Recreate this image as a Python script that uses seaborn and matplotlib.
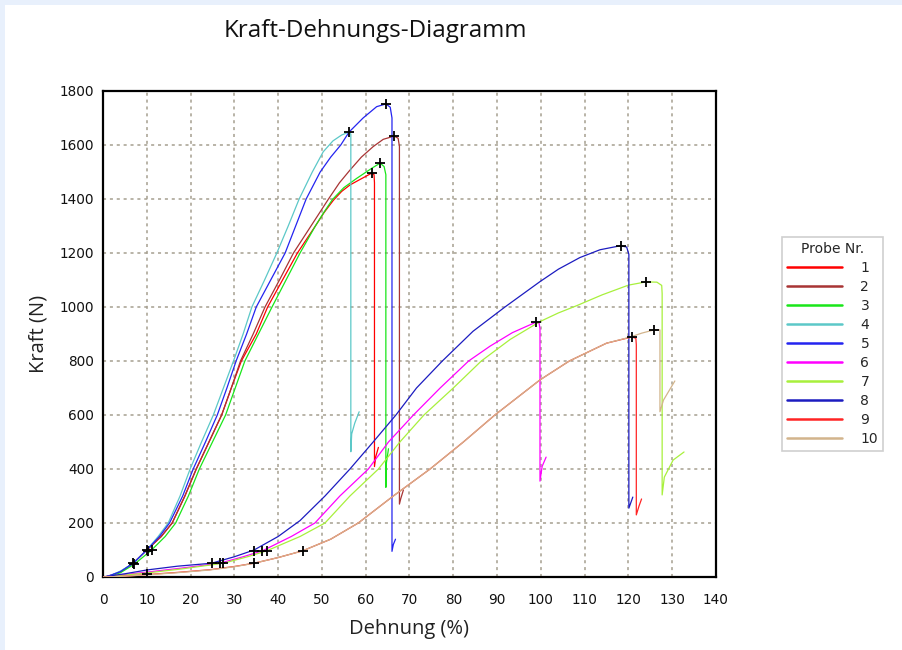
import numpy as np
import pandas as pd
import matplotlib
matplotlib.use("Agg")
import matplotlib.pyplot as plt
from matplotlib.patches import Rectangle
import seaborn as sns

# ---------------- data ----------------
# Probe 1 (red)
x1 = [0.5, 2, 4, 6.9, 10, 13.3, 15.8, 18.7, 21.3, 24.2, 27.1, 29.3, 31.6, 35, 37.6, 41, 44.4, 48.5, 50.5, 52.6, 54.5, 56.4, 59, 61.4, 61.9, 62.0, 62.0, 62.3, 62.9]
y1 = [0, 7, 19, 51, 100, 150, 200, 300, 400, 500, 600, 700, 800, 900, 1000, 1100, 1200, 1300, 1350, 1395, 1428, 1452, 1475, 1496, 1490, 1460, 409, 446, 480]
# Probe 2 (brown)
x2 = [0.5, 2, 4, 6.9, 10, 13.3, 15.8, 18.7, 21.3, 24.2, 27.1, 29.3, 31.4, 34.3, 37.0, 40.3, 43.5, 47.5, 51.5, 54, 56.4, 59, 61.7, 64.0, 66.5, 67.4, 67.7, 67.7, 68.0, 68.6]
y2 = [0, 7, 19, 51, 100, 150, 200, 300, 400, 500, 600, 700, 800, 900, 1000, 1100, 1200, 1300, 1400, 1460, 1507, 1555, 1594, 1621, 1633, 1625, 1595, 270, 290, 322]
# Probe 3 (green)
x3 = [0.5, 2, 4, 7.2, 11.1, 14.2, 16.6, 19.5, 22.0, 25.0, 28.0, 30.2, 32.4, 35.5, 38.6, 41.8, 45.0, 48.5, 50.5, 52.4, 55, 57.9, 61.5, 63.3, 64.2, 64.6, 64.6, 64.7, 65.2]
y3 = [0, 6, 16, 48, 100, 150, 200, 300, 400, 500, 600, 700, 800, 900, 1000, 1100, 1200, 1300, 1352, 1398, 1442, 1476, 1515, 1533, 1520, 1490, 332, 420, 475]
# Probe 4 (cyan)
x4 = [0.5, 2, 4, 6.9, 10, 12.6, 14.9, 17.6, 19.9, 22.5, 25.2, 27.5, 29.8, 32, 34.0, 36.9, 39.7, 42.3, 44.8, 47.8, 50.3, 52.5, 54.5, 56.2, 56.6, 56.6, 56.8, 57.5, 58.5]
y4 = [0, 8, 22, 51, 100, 150, 200, 300, 400, 500, 600, 700, 800, 900, 1000, 1100, 1200, 1300, 1400, 1500, 1575, 1615, 1637, 1648, 1640, 464, 530, 570, 612]
# Probe 5 (blue)
x5 = [0.5, 2, 4, 6.9, 10, 12.9, 15.2, 18.2, 20.6, 23.4, 26.1, 28.3, 30.4, 32.8, 35.0, 38.3, 41.6, 44, 46.4, 49.6, 52, 54.3, 56.2, 59.4, 62.5, 64.6, 65.6, 66.0, 66.0, 66.3, 66.8]
y5 = [0, 8, 20, 51, 100, 150, 200, 300, 400, 500, 600, 700, 800, 900, 1000, 1100, 1200, 1300, 1400, 1500, 1555, 1600, 1648, 1700, 1742, 1752, 1740, 1700, 95, 120, 140]
# Probe 6 (magenta)
x6 = [0, 5, 10, 18, 26.7, 32, 36.4, 43, 48.4, 54.1, 60.6, 65.2, 70.9, 77.0, 83.5, 88.4, 93.5, 98.9, 99.6, 99.8, 99.8, 100.3, 101.2]
y6 = [0, 9, 18, 33, 51, 75, 97, 150, 200, 300, 400, 500, 600, 700, 800, 855, 905, 944, 940, 920, 355, 410, 444]
# Probe 7 (yellow-green)
x7 = [0, 5, 10, 18, 27.5, 33, 37.4, 45, 50.7, 56.4, 62.9, 67.8, 73.3, 80, 86.4, 93, 99.8, 104, 108.2, 114, 120, 124, 126.5, 127.6, 127.7, 127.7, 128.2, 130.2, 132.7]
y7 = [0, 7, 15, 30, 51, 75, 97, 150, 200, 300, 400, 500, 600, 700, 800, 880, 946, 978, 1005, 1045, 1081, 1093, 1092, 1080, 1050, 304, 370, 433, 463]
# Probe 8 (dark blue)
x8 = [0, 5, 10, 17, 24.8, 30, 34.5, 40, 45, 50.7, 56.4, 61.7, 66.9, 71.6, 77.5, 84.5, 91.8, 99.8, 104, 108.9, 113.5, 118.2, 119.6, 120.1, 120.1, 121.0]
y8 = [0, 12, 26, 40, 51, 75, 100, 150, 209, 300, 400, 500, 600, 700, 800, 910, 1000, 1094, 1140, 1183, 1212, 1227, 1222, 1195, 255, 296]
# Probe 9 (red)
x9 = [0, 5, 10, 17, 24.4, 30, 34.5, 40, 45.6, 52, 58.3, 66.3, 74.7, 82.3, 89.5, 99.8, 106.5, 115, 120.8, 121.7, 121.8, 121.8, 122.4, 123.0]
y9 = [0, 3, 9, 17, 27, 39, 51, 72, 97, 140, 200, 300, 400, 500, 600, 730, 800, 866, 889, 884, 860, 230, 262, 289]
# Probe 10 (tan)
x10 = [0, 5, 10, 17, 24.4, 30, 34.5, 40, 45.6, 52, 58.3, 66.3, 74.7, 82.3, 89.5, 99.8, 106.5, 115, 120.3, 123, 125.8, 127.2, 127.2, 128, 130.6]
y10 = [0, 3, 8, 16, 26, 38, 51, 72, 97, 140, 200, 300, 400, 500, 600, 730, 800, 866, 888, 903, 915, 915, 612, 655, 726]

probe_labels = ["1", "2", "3", "4", "5", "6", "7", "8", "9", "10"]
probe_colors = ["#ff0000", "#a83434", "#19e619", "#5cc8c8", "#2424f0",
                "#ff00ff", "#a8f03c", "#1c1cc0", "#ff2424", "#d2b48c"]

# "+" markers (peaks and force-level marks)
mark_x = [61.4, 66.5, 63.3, 56.2, 64.6, 98.9, 124.0, 118.2, 120.8, 125.8,
          6.9, 7.1, 10.0, 10.2, 11.1, 10.1,
          24.8, 26.7, 27.5, 34.5, 36.4, 37.4, 34.5, 45.6]
mark_y = [1496, 1633, 1533, 1648, 1752, 944, 1093, 1227, 889, 915,
          51, 49, 100, 95, 100, 11,
          51, 51, 51, 97, 97, 97, 51, 97]

x_ticks = list(range(0, 141, 10))
y_ticks = list(range(0, 1801, 200))

# ---------------- build long-form table ----------------
xs_all = [x1, x2, x3, x4, x5, x6, x7, x8, x9, x10]
ys_all = [y1, y2, y3, y4, y5, y6, y7, y8, y9, y10]
frames = []
for lab, xs, ys in zip(probe_labels, xs_all, ys_all):
    frames.append(pd.DataFrame({"Dehnung": xs, "Kraft": ys, "Probe Nr.": lab}))
df = pd.concat(frames, ignore_index=True)

# ---------------- figure ----------------
sns.set_style("white")
plt.rcParams["font.family"] = ["DejaVu Sans"]

fig = plt.figure(figsize=(9.02, 6.5), dpi=100)
fig.patch.set_facecolor("#e8f0fc")
fig.add_artist(Rectangle((5 / 902, 0), 1, 1 - 5 / 650, transform=fig.transFigure,
                         facecolor="white", edgecolor="none", zorder=-10))

ax = fig.add_axes([103 / 902, 1 - 577 / 650, (716 - 103) / 902, (577 - 91) / 650])
ax.set_facecolor("white")

sns.lineplot(data=df, x="Dehnung", y="Kraft", hue="Probe Nr.",
             hue_order=probe_labels, palette=dict(zip(probe_labels, probe_colors)),
             sort=False, estimator=None, linewidth=0.9, ax=ax, zorder=3)

sns.scatterplot(x=mark_x, y=mark_y, marker="+", color="black", s=55,
                linewidth=1.3, ax=ax, zorder=6, legend=False)

ax.set_xlim(0, 140)
ax.set_ylim(0, 1800)
ax.set_xticks(x_ticks)
ax.set_yticks(y_ticks)
ax.set_xticks(list(range(0, 141, 5)), minor=True)
ax.set_yticks(list(range(0, 1801, 100)), minor=True)
ax.tick_params(which="both", direction="inout", length=7, width=1.1, color="black",
               labelsize=9.8, labelcolor="#111111")
ax.tick_params(axis="x", which="major", pad=8)
ax.tick_params(axis="y", which="major", pad=3)

ax.grid(True, which="major", color="#a59f90", linestyle=(0, (2, 2.5)), linewidth=1.1)
ax.set_axisbelow(True)
for s in ax.spines.values():
    s.set_visible(True)
    s.set_color("black")
    s.set_linewidth(1.6)

ax.set_xlabel("Dehnung (%)", family=["Open Sans", "DejaVu Sans"], fontsize=14.5,
              color="#222222", labelpad=9)
ax.set_ylabel("Kraft (N)", family=["Open Sans", "DejaVu Sans"], fontsize=14.5,
              color="#222222", labelpad=8)

fig.text(375 / 902, 1 - 31 / 650, "Kraft-Dehnungs-Diagramm",
         family=["Open Sans", "DejaVu Sans"], fontsize=17.4, color="#111111",
         ha="center", va="center")

sns.move_legend(ax, loc="upper left", bbox_to_anchor=(782 / 902, 1 - 237 / 650),
                bbox_transform=fig.transFigure, title="Probe Nr.",
                frameon=True, fancybox=False, framealpha=1, edgecolor="#cfcfcf",
                borderaxespad=0, borderpad=0.35, handlelength=4.0, handletextpad=1.3,
                labelspacing=0.36, fontsize=10, title_fontsize=10)
leg = ax.get_legend()
for line in leg.get_lines():
    line.set_linewidth(1.8)
leg.get_frame().set_linewidth(1.2)

fig.savefig("out.png", dpi=100, facecolor=fig.get_facecolor())
